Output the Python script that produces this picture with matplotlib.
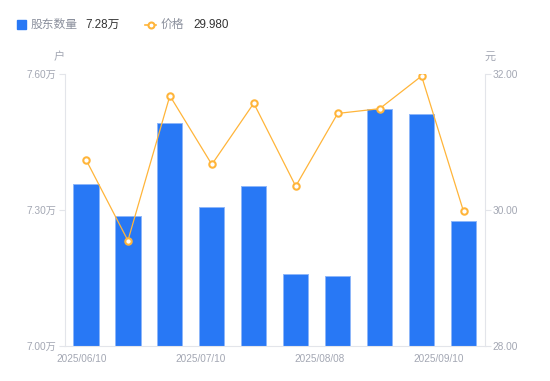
import matplotlib
matplotlib.use("Agg")
import matplotlib.pyplot as plt
from matplotlib.lines import Line2D
from matplotlib.patches import Rectangle
import numpy as np

plt.rcParams['font.family'] = ['Liberation Sans', 'Noto Sans CJK SC', 'DejaVu Sans']

dates = ["2025/06/10", "2025/06/20", "2025/06/30", "2025/07/10", "2025/07/20",
         "2025/07/31", "2025/08/08", "2025/08/20", "2025/08/31", "2025/09/10"]
holders = [7.357, 7.287, 7.492, 7.306, 7.353, 7.158, 7.154, 7.523, 7.511, 7.276]  # 万户
price = [30.74, 29.55, 31.68, 30.67, 31.57, 30.35, 31.42, 31.49, 31.97, 29.98]
shown_dates = ["2025/06/10", "2025/07/10", "2025/08/08", "2025/09/10"]
left_ticks = [7.00, 7.30, 7.60]
right_ticks = [28.00, 30.00, 32.00]

BLUE = "#2878f5"
ORANGE = "#ffb53a"
GRAY = "#a3a7b3"
AXIS = "#e3e5ea"

W, H = 550, 381
fig = plt.figure(figsize=(5.5, 3.81), dpi=100)
x0, x1, ytop, ybot = 65, 484.5, 74, 346
ax = fig.add_axes([x0 / W, 1 - ybot / H, (x1 - x0) / W, (ybot - ytop) / H])
ax2 = ax.twinx()

x = np.arange(len(dates))
ax.bar(x, holders, width=0.6, color=BLUE, edgecolor="#8db6fa", linewidth=0.7, zorder=2)
ax.set_ylim(7.0, 7.6)
ax.set_xlim(-0.5, len(dates) - 0.5)
ax2.set_ylim(28, 32)
ax2.plot(x, price, color=ORANGE, linewidth=0.9, marker="o", markersize=4.6,
         markerfacecolor="white", markeredgecolor=ORANGE, markeredgewidth=1.5, zorder=3)

for a in (ax, ax2):
    for s in a.spines.values():
        s.set_visible(False)
ax.spines['left'].set_visible(True)
ax.spines['left'].set_color(AXIS)
ax.spines['bottom'].set_visible(True)
ax.spines['bottom'].set_color(AXIS)
ax2.spines['right'].set_visible(True)
ax2.spines['right'].set_color(AXIS)

ax.set_yticks(left_ticks)
ax.set_yticklabels([f"{v:.2f}万" for v in left_ticks])
ax.tick_params(axis='y', colors=AXIS, labelcolor=GRAY, labelsize=7.3, length=4, width=0.8, pad=2)
ax2.set_yticks(right_ticks)
ax2.set_yticklabels([f"{v:.2f}" for v in right_ticks])
ax2.tick_params(axis='y', colors=AXIS, labelcolor=GRAY, labelsize=7.3, length=4, width=0.8, pad=2)

pos = np.linspace(-0.095, 8.405, len(shown_dates))
ax.set_xticks(pos)
ax.set_xticklabels(shown_dates)
ax.tick_params(axis='x', length=0, labelcolor=GRAY, labelsize=7.2, pad=5.5)

fig.text(59 / W, 1 - 57 / H, "户", color=GRAY, fontsize=8, ha='center', va='center')
fig.text(490 / W, 1 - 57 / H, "元", color=GRAY, fontsize=8, ha='center', va='center')

# legend
fig.patches.append(Rectangle((17 / W, 1 - 29 / H), 9 / W, 9 / H, transform=fig.transFigure,
                             color=BLUE, figure=fig))
fig.text(31 / W, 1 - 24.5 / H, "股东数量", color="#8a8f9c", fontsize=8.5, va='center', ha='left')
fig.text(85 / W, 1 - 24.5 / H, f"{holders[-1]:.2f}万", color="#333333", fontsize=8.4, va='center', ha='left')
fig.lines.append(Line2D([145 / W, 156 / W], [1 - 24.5 / H, 1 - 24.5 / H], transform=fig.transFigure,
                        color=ORANGE, linewidth=1.2))
fig.lines.append(Line2D([150.5 / W], [1 - 24.5 / H], transform=fig.transFigure, color=ORANGE,
                        marker='o', markersize=4.3, markerfacecolor='white', markeredgewidth=1.5,
                        linestyle='none'))
fig.text(161 / W, 1 - 24.5 / H, "价格", color="#8a8f9c", fontsize=8.5, va='center', ha='left')
fig.text(193 / W, 1 - 24.5 / H, f"{price[-1]:.3f}", color="#333333", fontsize=8.4, va='center', ha='left')

fig.savefig("out.png", dpi=100)
